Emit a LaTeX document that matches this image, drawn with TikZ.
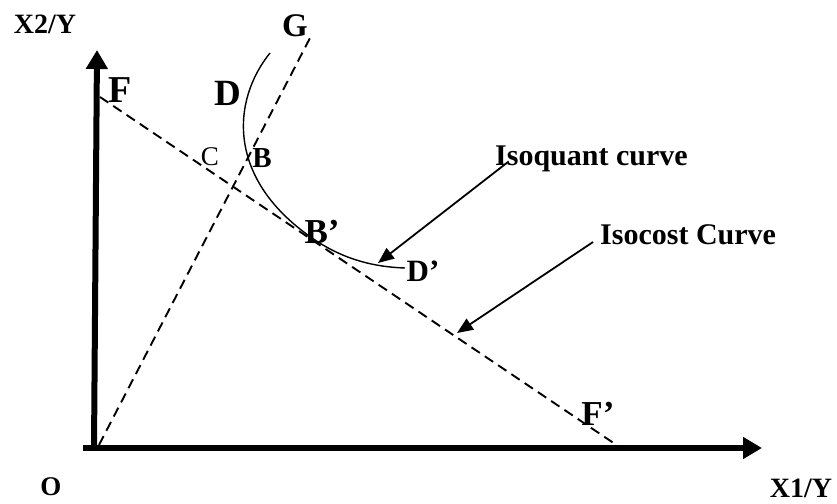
\documentclass[tikz,border=0pt]{standalone}
\usepackage{fontspec}
\setmainfont{Liberation Serif}
\usetikzlibrary{arrows.meta}

\begin{document}
\begin{tikzpicture}[x=1pt, y=-1pt,
    lbl/.style={font=\bfseries\fontsize{#1}{#1}\selectfont, inner sep=0pt},
    lbl/.default=28,
    axis/.style={line width=6pt, -{Triangle[length=19pt, width=21pt]}},
    dashline/.style={line width=1.9pt, dash pattern=on 10pt off 6pt},
    pointer/.style={line width=1.8pt, -{Triangle[length=16pt, width=13pt]}}
  ]
  \useasboundingbox (0,0) rectangle (837,503);

  % axes
  \coordinate (O) at (94,448);
  \coordinate (ytip) at (97,50);
  \coordinate (xstart) at (83,448);
  \coordinate (xtip) at (762,448);
  \draw[axis] (O) -- (ytip);
  \draw[axis] (xstart) -- (xtip);

  % isocost line and expansion path
  \coordinate (Fpt) at (100,97);
  \coordinate (Fend) at (618,446);
  \coordinate (Opt) at (99,445);
  \coordinate (Gpt) at (310,38);
  \draw[dashline] (Fpt) -- (Fend);
  \draw[dashline] (Opt) -- (Gpt);

  % isoquant
  \coordinate (Dtop) at (270,53);
  \coordinate (Btan) at (315,240);
  \coordinate (Dend) at (405,268);
  \draw[line width=1.4pt] (Dtop) .. controls (232,100) and (225,179.5) .. (Btan)
    .. controls (345,260) and (375,267) .. (Dend);

  % labels
  \node[lbl] (x2) at (45,24) {X2/Y};
  \node[lbl=33] (g) at (295,26) {G};
  \node[lbl=38] (f) at (120,90) {F};
  \node[lbl=37] (d) at (228,93) {D};
  \node[inner sep=0pt, font=\fontsize{27}{27}\selectfont] (c) at (210,157) {C};
  \node[lbl=29] (b) at (262,158) {B};
  \node[lbl=35] (bp) at (322,232) {B’};
  \node[lbl=31] (dp) at (423,271) {D’};
  \node[lbl=35] (fp) at (598,414) {F’};
  \node[lbl=27] (o) at (51,487) {O};
  \node[lbl] (x1) at (801,488) {X1/Y};
  \node[lbl=30, anchor=base west] (isoquant) at (495,165) {Isoquant curve};
  \node[lbl=30, anchor=base west] (isocost) at (600,244) {Isocost Curve};

  % pointers
  \coordinate (qfrom) at (508,162);
  \coordinate (qto) at (378,263);
  \coordinate (cfrom) at (593,242);
  \coordinate (cto) at (457,333);
  \draw[pointer] (qfrom) -- (qto);
  \draw[pointer] (cfrom) -- (cto);
\end{tikzpicture}
\end{document}
